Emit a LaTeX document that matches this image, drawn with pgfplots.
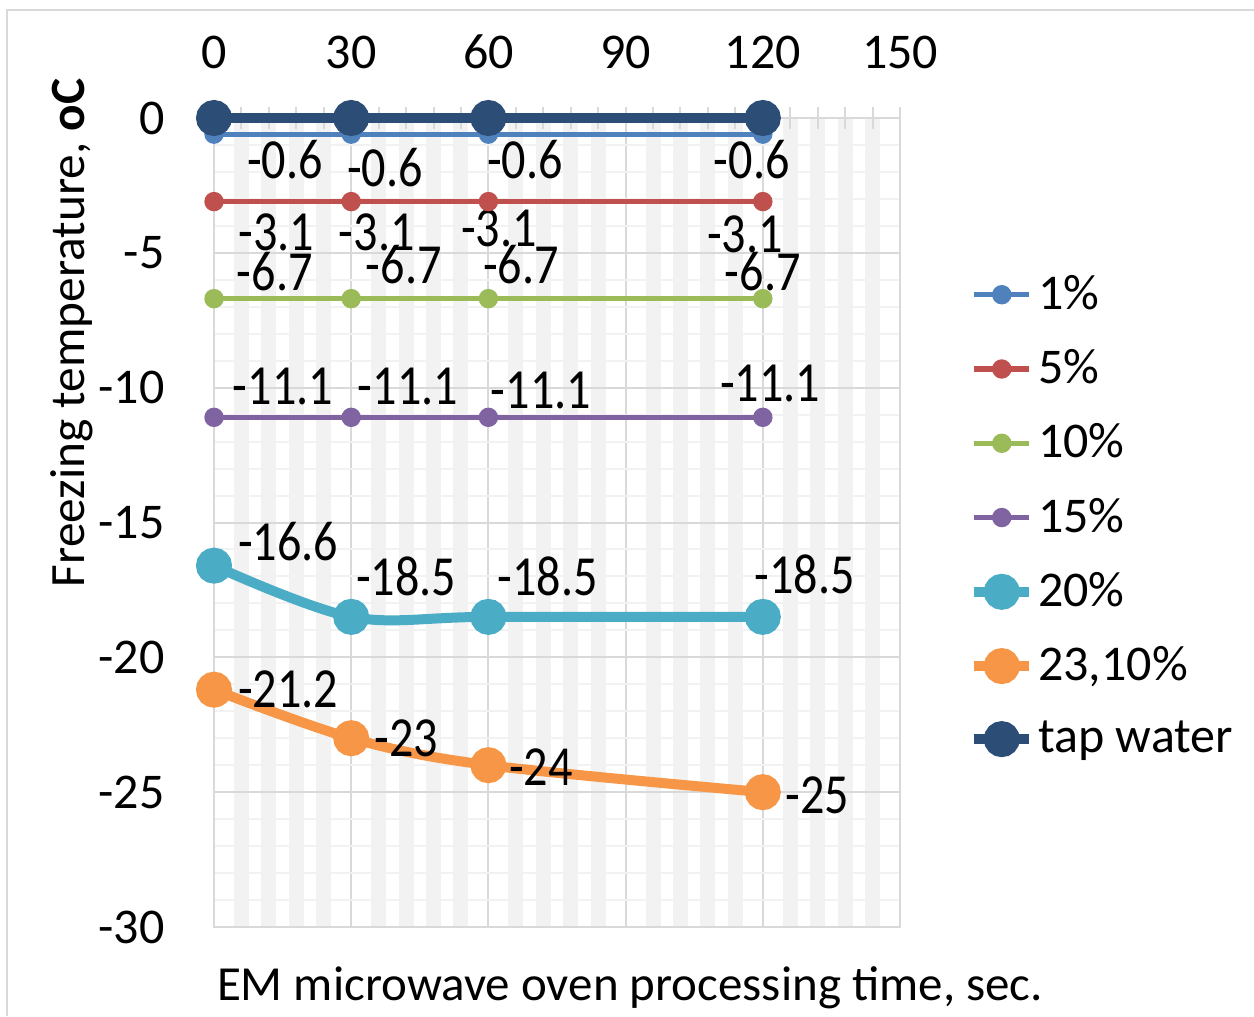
\documentclass[border=0pt]{standalone}
\usepackage{fontspec}
\setmainfont{Carlito}
\newfontfamily\lblfont[FakeStretch=0.85]{Carlito}
\usepackage{pgfplots}
\pgfplotsset{compat=1.18}
\definecolor{cA}{HTML}{4F81BD}
\definecolor{cB}{HTML}{C0504D}
\definecolor{cC}{HTML}{9BBB59}
\definecolor{cD}{HTML}{8064A2}
\definecolor{cE}{HTML}{4BACC6}
\definecolor{cF}{HTML}{F79646}
\definecolor{cG}{HTML}{2C4D75}
\definecolor{gridmaj}{HTML}{D9D9D9}
\definecolor{gridmin}{HTML}{F2F2F2}

\begin{document}
\begin{tikzpicture}
\useasboundingbox (0,0) rectangle (376.2pt,304.8pt);
\draw[gridmaj, line width=0.6pt] (2.1pt,0) -- (2.1pt,301.8pt) -- (376.2pt,301.8pt);
\begin{axis}[
  at={(64.2pt,26.7pt)}, anchor=south west,
  scale only axis, width=205.8pt, height=242.7pt,
  xmin=0, xmax=150, ymin=-30, ymax=0,
  xtick={0,30,...,150}, ytick={-30,-25,...,0},
  minor x tick num=4, minor y tick num=4,
  xtick pos=upper, xticklabel pos=upper,
  tick align=center,
  major tick length=6.6pt, minor tick length=6.6pt,
  x tick style={gridmaj, line width=0.6pt},
  ytick style={draw=none},
  grid=both,
  major x grid style={gridmaj, line width=0.6pt},
  major y grid style={gridmaj, line width=0.6pt},
  minor x grid style={gridmin, line width=4.5pt},
  minor y grid style={gridmin, line width=0.6pt},
  axis line style={gridmaj, line width=0.6pt},
  /pgf/number format/assume math mode=true,
  ticklabel style={font=\fontsize{15}{18}\selectfont},
  xticklabel style={yshift=7.8pt},
  yticklabel style={xshift=-8pt},
  clip=false,
  legend style={at={(1.100,0.8115)}, anchor=north west, draw=none, fill=none,
    font=\fontsize{15}{18}\selectfont, inner sep=0pt, row sep=8.15pt,
    nodes={inner sep=1.2pt},
    /tikz/every even column/.append style={column sep=0pt}},
  legend cell align=left,
  legend image code/.code={
    \draw[#1, mark=none] (0pt,0pt) -- (16.5pt,0pt);
    \draw[#1, only marks] plot coordinates {(8.25pt,0pt)};
  },
]
\addplot[cA, line width=1.6pt, mark=*, mark size=2.1pt] coordinates {(0,-0.6) (30,-0.6) (60,-0.6) (120,-0.6)};
\addlegendentry{1\%}
\addplot[cB, line width=1.6pt, mark=*, mark size=2.1pt] coordinates {(0,-3.1) (30,-3.1) (60,-3.1) (120,-3.1)};
\addlegendentry{5\%}
\addplot[cC, line width=1.6pt, mark=*, mark size=2.1pt] coordinates {(0,-6.7) (30,-6.7) (60,-6.7) (120,-6.7)};
\addlegendentry{10\%}
\addplot[cD, line width=1.6pt, mark=*, mark size=2.1pt] coordinates {(0,-11.1) (30,-11.1) (60,-11.1) (120,-11.1)};
\addlegendentry{15\%}
\addplot[cE, line width=3pt, mark=*, mark size=3.9pt, smooth, tension=0.55] coordinates {(0,-16.6) (30,-18.5) (60,-18.5) (120,-18.5)};
\addlegendentry{20\%}
\addplot[cF, line width=3pt, mark=*, mark size=3.9pt, smooth, tension=0.55] coordinates {(0,-21.2) (30,-23) (60,-24) (120,-25)};
\addlegendentry{23,10\%}
\addplot[cG, line width=3pt, mark=*, mark size=3.9pt] coordinates {(0,0) (30,0) (60,0) (120,0)};
\addlegendentry{tap water}

% data labels, placed as in the original chart
\begin{scope}[every node/.style={font=\lblfont\fontsize{17}{19}\selectfont, inner sep=0pt}]
\node at (axis cs:15.5,-1.56) {-0.6};
\node at (axis cs:37.4,-1.85) {-0.6};
\node at (axis cs:68.0,-1.56) {-0.6};
\node at (axis cs:117.6,-1.56) {-0.6};
\node at (axis cs:13.6,-4.23) {-3.1};
\node at (axis cs:35.6,-4.23) {-3.1};
\node at (axis cs:62.3,-4.08) {-3.1};
\node at (axis cs:116.1,-4.30) {-3.1};
\node at (axis cs:13.3,-5.71) {-6.7};
\node at (axis cs:41.5,-5.45) {-6.7};
\node at (axis cs:67.1,-5.45) {-6.7};
\node at (axis cs:120.0,-5.71) {-6.7};
\node at (axis cs:15.1,-9.94) {-11.1};
\node at (axis cs:42.4,-9.94) {-11.1};
\node at (axis cs:71.5,-10.1) {-11.1};
\node at (axis cs:121.6,-9.86) {-11.1};
\node at (axis cs:16.2,-15.72) {-16.6};
\node at (axis cs:42.0,-16.98) {-18.5};
\node at (axis cs:73.0,-16.98) {-18.5};
\node at (axis cs:129.2,-16.91) {-18.5};
\node at (axis cs:16.2,-21.2) {-21.2};
\node at (axis cs:42.0,-22.99) {-23};
\node at (axis cs:71.5,-24.06) {-24};
\node at (axis cs:131.9,-25.1) {-25};
\end{scope}
\end{axis}
\node[rotate=90, font=\fontsize{14.8}{18}\selectfont] at (21.6pt,204.9pt) {Freezing temperature, \textbf{oC}};
\node[font=\fontsize{14.7}{18}\selectfont] at (189pt,8.4pt) {EM microwave oven processing time, sec.};
\end{tikzpicture}
\end{document}
